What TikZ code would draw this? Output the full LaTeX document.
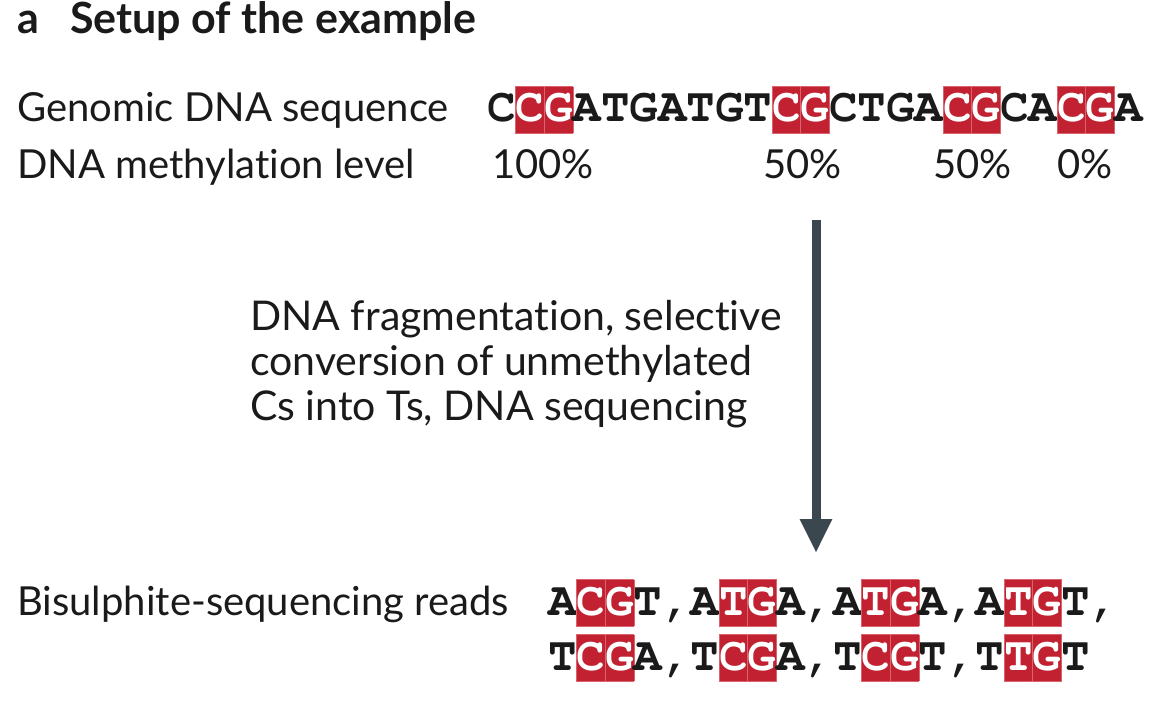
\documentclass[tikz,border=0pt]{standalone}
\usepackage[T1,TU]{fontenc}
\usepackage{fontspec}
\setmainfont{Lato}[Ligatures=NoCommon]
\newcommand\seqfont{\fontencoding{T1}\fontfamily{pcr}\fontseries{b}\selectfont}
\usepackage{xcolor}
\definecolor{cgred}{HTML}{C12130}
\definecolor{cgedge}{HTML}{D9646E}
\definecolor{arrowgray}{HTML}{3B474E}
\definecolor{inkblack}{HTML}{1A1A1A}
\usetikzlibrary{arrows.meta}
% red CpG cell with white letter
\newcommand\cgcell[1]{{\setlength{\fboxsep}{0pt}\setlength{\fboxrule}{0.6pt}%
  \kern-0.6pt\fcolorbox{cgedge}{cgred}{\rule[-11pt]{0pt}{46pt}\textcolor{white}{#1}}\kern-0.6pt}}
\tikzset{
  titletext/.style={anchor=base west, inner sep=0pt, text=inkblack,
    font=\fontsize{43}{50}\selectfont\bfseries},
  labeltext/.style={anchor=base west, inner sep=0pt, text=inkblack,
    font=\fontsize{40}{45}\selectfont},
  seqtext/.style={anchor=base west, inner sep=0pt, text=inkblack,
    font=\fontsize{47.5}{55}\seqfont},
  steparrow/.style={-{Triangle[width=30pt,length=34pt]}, line width=9pt, draw=arrowgray}
}

\begin{document}
\begin{tikzpicture}[x=1pt,y=-1pt]
  \useasboundingbox (0,0) rectangle (1159,706);

  \node[titletext] (panel) at (17,34) {a};
  \node[titletext] (title) at (70,34) {Setup of the example};

  \node[labeltext] (genlabel) at (17,122) {Genomic DNA sequence};
  \node[labeltext] (methlabel) at (17,178) {DNA methylation level};

  \node[seqtext] (genseq) at (487,122)
    {C\cgcell{C}\cgcell{G}ATGATGT\cgcell{C}\cgcell{G}CTGA\cgcell{C}\cgcell{G}CA\cgcell{C}\cgcell{G}A};

  \node[labeltext] (meth1) at (492,178) {100\%};
  \node[labeltext] (meth2) at (763,178) {50\%};
  \node[labeltext] (meth3) at (933,178) {50\%};
  \node[labeltext] (meth4) at (1057,178) {0\%};

  \coordinate (arrowtop) at (816,220);
  \coordinate (arrowtip) at (816,553);
  \draw[steparrow] (arrowtop) -- (arrowtip);

  \node[labeltext, anchor=north west, align=left, font=\fontsize{41}{45}\selectfont] (steps) at (250,300)
    {DNA fragmentation, selective\\ conversion of unmethylated\\ Cs into Ts, DNA sequencing};

  \node[labeltext] (readlabel) at (17,615) {Bisulphite-sequencing reads};
  \node[seqtext] (reads1) at (548,615)
    {A\cgcell{C}\cgcell{G}T,A\cgcell{T}\cgcell{G}A,A\cgcell{T}\cgcell{G}A,A\cgcell{T}\cgcell{G}T,};
  \node[seqtext] (reads2) at (548,670)
    {T\cgcell{C}\cgcell{G}A,T\cgcell{C}\cgcell{G}A,T\cgcell{C}\cgcell{G}T,T\cgcell{T}\cgcell{G}T};
\end{tikzpicture}
\end{document}
